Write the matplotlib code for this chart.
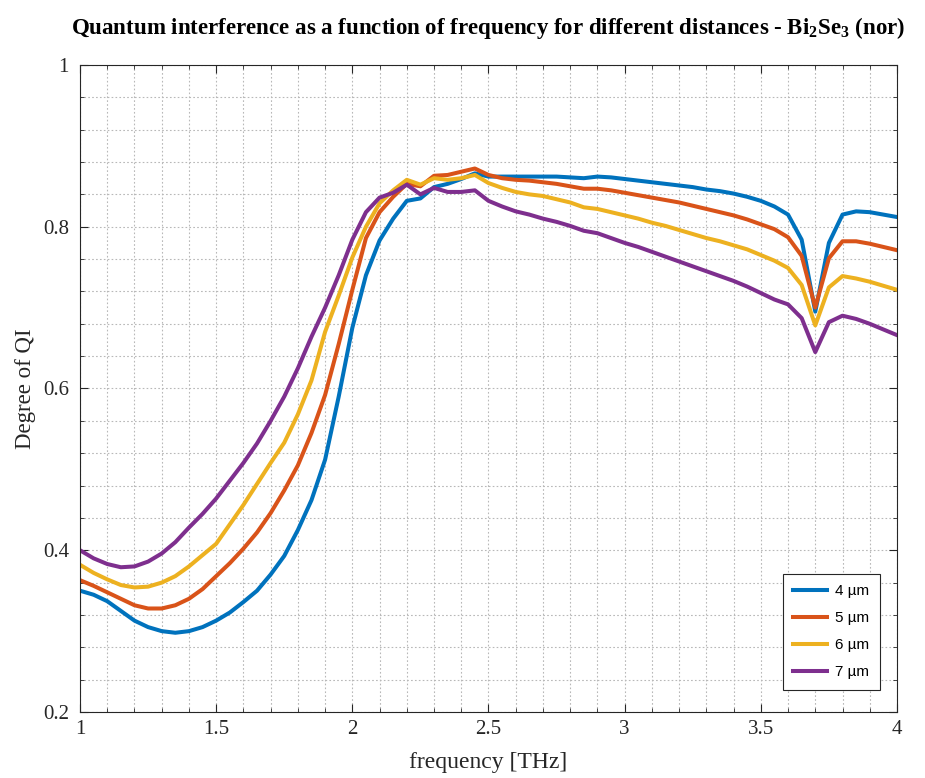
import matplotlib
matplotlib.use("Agg")
import matplotlib.pyplot as plt
from matplotlib.ticker import MultipleLocator
import numpy as np

# frequency grid [THz]
freq = np.round(np.arange(1.0, 4.0001, 0.05), 2)

qi_4um = [0.350, 0.345, 0.337, 0.325, 0.313, 0.305, 0.300, 0.298, 0.300, 0.305,
          0.313, 0.323, 0.336, 0.350, 0.370, 0.393, 0.425, 0.462, 0.512, 0.590,
          0.675, 0.740, 0.783, 0.810, 0.832, 0.835, 0.849, 0.853, 0.859, 0.866,
          0.862, 0.862, 0.862, 0.862, 0.862, 0.862, 0.861, 0.860, 0.862, 0.861,
          0.859, 0.857, 0.855, 0.853, 0.851, 0.849, 0.846, 0.844, 0.841, 0.837,
          0.832, 0.825, 0.815, 0.784, 0.695, 0.780, 0.815, 0.819, 0.818, 0.815,
          0.812]
qi_5um = [0.363, 0.356, 0.348, 0.340, 0.332, 0.328, 0.328, 0.332, 0.340, 0.352,
          0.368, 0.384, 0.402, 0.422, 0.446, 0.474, 0.505, 0.545, 0.592, 0.655,
          0.722, 0.786, 0.818, 0.837, 0.853, 0.850, 0.863, 0.864, 0.868, 0.872,
          0.864, 0.860, 0.858, 0.857, 0.855, 0.853, 0.850, 0.847, 0.847, 0.845,
          0.842, 0.839, 0.836, 0.833, 0.830, 0.826, 0.822, 0.818, 0.814, 0.809,
          0.803, 0.797, 0.787, 0.764, 0.700, 0.761, 0.782, 0.782, 0.779, 0.775,
          0.771]
qi_6um = [0.382, 0.372, 0.364, 0.357, 0.354, 0.355, 0.360, 0.368, 0.380, 0.394,
          0.408, 0.432, 0.456, 0.482, 0.508, 0.533, 0.568, 0.610, 0.670, 0.715,
          0.762, 0.800, 0.829, 0.845, 0.858, 0.852, 0.860, 0.858, 0.860, 0.864,
          0.854, 0.848, 0.843, 0.840, 0.838, 0.834, 0.830, 0.824, 0.822, 0.818,
          0.814, 0.810, 0.805, 0.801, 0.796, 0.791, 0.786, 0.782, 0.777, 0.772,
          0.765, 0.758, 0.749, 0.728, 0.678, 0.725, 0.739, 0.736, 0.732, 0.727,
          0.722]
qi_7um = [0.400, 0.390, 0.383, 0.379, 0.380, 0.386, 0.396, 0.410, 0.428, 0.445,
          0.464, 0.486, 0.508, 0.532, 0.560, 0.590, 0.625, 0.664, 0.700, 0.740,
          0.784, 0.818, 0.836, 0.842, 0.852, 0.840, 0.848, 0.843, 0.843, 0.845,
          0.832, 0.825, 0.819, 0.815, 0.810, 0.806, 0.801, 0.795, 0.792, 0.786,
          0.780, 0.775, 0.769, 0.763, 0.757, 0.751, 0.745, 0.739, 0.733, 0.726,
          0.718, 0.710, 0.704, 0.687, 0.645, 0.682, 0.690, 0.686, 0.680, 0.673,
          0.666]

labels = ["4 \u00b5m", "5 \u00b5m", "6 \u00b5m", "7 \u00b5m"]
colors = ["#0072BD", "#D95319", "#EDB120", "#7E2F8E"]

plt.rcParams["font.family"] = ["Liberation Serif", "DejaVu Serif"]
plt.rcParams["mathtext.fontset"] = "custom"
plt.rcParams["mathtext.rm"] = "Liberation Serif:bold"
plt.rcParams["mathtext.default"] = "rm"

fig = plt.figure(figsize=(9.25, 7.78), dpi=100)
ax = fig.add_axes([0.0865, 0.0848, 0.8832, 0.8317])

for y, lab, c in zip([qi_4um, qi_5um, qi_6um, qi_7um], labels, colors):
    ax.plot(freq, y, color=c, lw=2.9, label=lab)

ax.set_xlim(1, 4)
ax.set_ylim(0.2, 1)
ax.xaxis.set_major_locator(MultipleLocator(0.5))
ax.xaxis.set_minor_locator(MultipleLocator(0.1))
ax.yaxis.set_major_locator(MultipleLocator(0.2))
ax.yaxis.set_minor_locator(MultipleLocator(0.04))
ax.xaxis.set_major_formatter(plt.FuncFormatter(lambda v, p: f"{v:g}"))
ax.yaxis.set_major_formatter(plt.FuncFormatter(lambda v, p: f"{v:g}"))

ax.grid(which="both", color="#b8b8b8", linestyle=(0, (1.5, 2)), lw=0.8)
ax.set_axisbelow(True)
ax.tick_params(which="both", direction="in", top=True, right=True,
               labelsize=15, colors="#262626")
ax.tick_params(which="major", length=6)
ax.tick_params(which="minor", length=3)
ax.tick_params(axis="x", which="major", pad=6)
ax.tick_params(axis="y", which="major", pad=8)
for s in ax.spines.values():
    s.set_color("#262626")
    s.set_linewidth(0.8)

ax.set_xlabel("frequency [THz]", fontsize=17, color="#262626", labelpad=9)
ax.set_ylabel("Degree of QI", fontsize=16.5, color="#262626", labelpad=5)
ax.set_title("Quantum interference as a function of frequency for different distances - Bi$_2$Se$_3$ (nor)",
             fontsize=16.5, fontweight="bold", pad=22)

leg = ax.legend(loc="lower right", bbox_to_anchor=(0.988, 0.022), fancybox=False,
                prop={"family": "Liberation Sans", "size": 11},
                edgecolor="#262626", framealpha=1, handlelength=2.2,
                handletextpad=0.5, labelspacing=0.85, borderpad=0.7)
leg.get_frame().set_linewidth(0.8)

fig.savefig("out.png", dpi=100)
